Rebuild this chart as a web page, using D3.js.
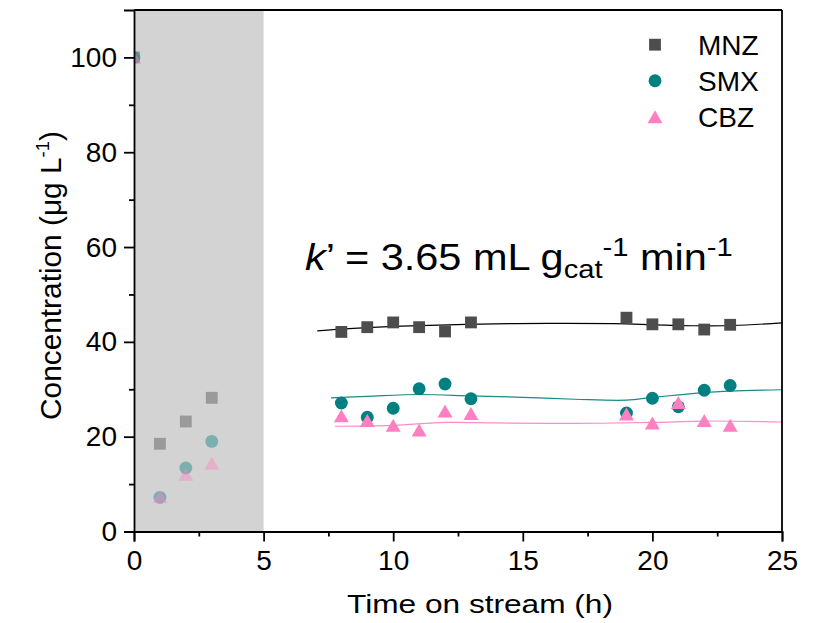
<!DOCTYPE html>
<html>
<head>
<meta charset="utf-8">
<script src="https://cdn.jsdelivr.net/npm/d3@7/dist/d3.min.js"></script>
<style>
  html, body { margin: 0; padding: 0; background: #fff; }
  svg { display: block; }
  text { font-family: "Liberation Sans", Arial, Helvetica, sans-serif; fill: #000; }
</style>
</head>
<body>
<svg id="chart" width="818" height="623"></svg>
<script>
// Sampling times (h) and measured concentrations (µg/L)
const times = [0, 1, 2, 3, 8, 9, 10, 11, 12, 13, 19, 20, 21, 22, 23];
const mnz = [100, 18.5, 23.2, 28.2, 42.1, 43.1, 44.1, 43.1, 42.2, 44.1, 45.1, 43.7, 43.7, 42.6, 43.6];
const smx = [100, 7.2, 13.4, 19.0, 27.1, 24.1, 26.0, 30.1, 31.1, 28.0, 25.0, 28.1, 26.3, 29.8, 30.8];
const cbz = [100, 7.4, 12.1, 14.4, 24.4, 23.4, 22.4, 21.4, 25.4, 24.9, 24.8, 22.9, 27.2, 23.4, 22.4];

// Steady-state model curves (time, concentration)
const mnzFitT = [7.07, 8, 10.3, 12.8, 16, 19, 20, 21.6, 23.1, 25];
const mnzFitC = [42.3, 42.7, 43.3, 43.7, 43.9, 43.8, 43.6, 43.4, 43.45, 44.0];
const smxFitT = [7.6, 9, 11, 13, 15, 17, 19, 20, 21, 22, 23, 25];
const smxFitC = [28.2, 28.5, 28.9, 28.6, 28.3, 27.9, 27.7, 28.3, 28.8, 29.3, 29.6, 29.9];
const cbzFitT = [7.75, 10, 12, 14, 17, 20, 22, 25];
const cbzFitC = [22.2, 22.4, 23.0, 22.9, 22.8, 23.0, 23.3, 23.1];

// Start-up (adsorption) period
const startupEnd = 5;

const seriesNames = ["MNZ", "SMX", "CBZ"];
const xTicks = [0, 5, 10, 15, 20, 25];
const xMinor = [2.5, 7.5, 12.5, 17.5, 22.5];
const yTicks = [0, 20, 40, 60, 80, 100];
const yMinor = [10, 30, 50, 70, 90];

const colors = { MNZ: "#4d4d4d", SMX: "#008080", CBZ: "#ff80c0" };

const svg = d3.select("#chart");
const margin = { left: 134, right: 36, top: 10, bottom: 91.5 };
const W = 818, H = 623;
const x = d3.scaleLinear().domain([0, 25]).range([margin.left, W - margin.right]);
const y = d3.scaleLinear().domain([0, 110]).range([H - margin.bottom, margin.top]);

// stretch a text element horizontally so that it spans the given width
function fitWidth(sel, target) {
  const w = sel.node().getBBox().width;
  sel.attr("transform", `scale(${target / w},1)`);
}

svg.append("defs").append("clipPath").attr("id", "plotclip")
  .append("rect")
  .attr("x", x(0)).attr("y", y(110))
  .attr("width", x(25) - x(0)).attr("height", y(0) - y(110));

// shaded start-up region
svg.append("rect")
  .attr("x", x(0)).attr("y", y(110))
  .attr("width", x(startupEnd) - x(0)).attr("height", y(0) - y(110))
  .attr("fill", "#d3d3d3");

// marker shapes
const tri = "M0,-6.5L7.5,6.5L-7.5,6.5Z";
const shape = {
  MNZ: d3.symbol(d3.symbolSquare, 140)(),
  SMX: d3.symbol(d3.symbolCircle, 130)(),
  CBZ: tri
};

// fit curves
const line = d3.line().x(d => x(d[0])).y(d => y(d[1])).curve(d3.curveCatmullRom);
const fits = [
  ["MNZ", mnzFitT, mnzFitC, "#000"],
  ["SMX", smxFitT, smxFitC, "#1a8a8a"],
  ["CBZ", cbzFitT, cbzFitC, "#ff8cc8"]
];
const gPlot = svg.append("g").attr("clip-path", "url(#plotclip)");
fits.forEach(([name, t, c, col]) => {
  gPlot.append("path")
    .datum(t.map((ti, i) => [ti, c[i]]))
    .attr("d", line)
    .attr("fill", "none")
    .attr("stroke", col)
    .attr("stroke-width", 1.2);
});

// data points
const seriesData = { MNZ: mnz, SMX: smx, CBZ: cbz };
seriesNames.forEach(name => {
  const vals = seriesData[name];
  gPlot.append("g").selectAll("path")
    .data(times.map((t, i) => ({ t, v: vals[i] })))
    .join("path")
    .attr("d", shape[name])
    .attr("transform", d => `translate(${x(d.t)},${y(d.v)})`)
    .attr("fill", colors[name])
    .attr("fill-opacity", d => d.t < startupEnd ? 0.42 : 1);
});

// axes
const axisG = svg.append("g");
const xAxis = d3.axisBottom(x).tickValues(xTicks).tickSize(10).tickPadding(9).tickFormat(d3.format("d"));
const yAxis = d3.axisLeft(y).tickValues(yTicks).tickSize(10).tickPadding(7).tickFormat(d3.format("d"));

const gx = axisG.append("g").attr("transform", `translate(0,${y(0)})`).call(xAxis);
const gxm = axisG.append("g").attr("transform", `translate(0,${y(0)})`)
  .call(d3.axisBottom(x).tickValues(xMinor).tickSize(5).tickFormat(""));
const gy = axisG.append("g").attr("transform", `translate(${x(0)},0)`).call(yAxis);
const gym = axisG.append("g").attr("transform", `translate(${x(0)},0)`)
  .call(d3.axisLeft(y).tickValues(yMinor).tickSize(5).tickFormat(""));

[gx, gxm, gy, gym].forEach(g => {
  g.select(".domain").attr("stroke", "#000").attr("stroke-width", 1.8);
  g.selectAll(".tick line").attr("stroke", "#000").attr("stroke-width", 1.8);
  g.selectAll(".tick text").attr("font-size", 28).attr("fill", "#000")
    .style("font-family", '"Liberation Sans", Arial, sans-serif');
});
gxm.select(".domain").remove();
gym.select(".domain").remove();

// frame top and right
axisG.append("line").attr("x1", x(0)).attr("x2", x(25)).attr("y1", y(110)).attr("y2", y(110))
  .attr("stroke", "#000").attr("stroke-width", 1.8);
axisG.append("line").attr("x1", x(25)).attr("x2", x(25)).attr("y1", y(110)).attr("y2", y(0))
  .attr("stroke", "#000").attr("stroke-width", 1.8);

// axis titles
svg.append("text")
  .attr("x", 480).attr("y", 613)
  .attr("text-anchor", "middle")
  .attr("font-size", 26)
  .attr("textLength", 266).attr("lengthAdjust", "spacingAndGlyphs")
  .text("Time on stream (h)");

const ytG = svg.append("g").attr("transform", "translate(61,275.5) rotate(-90)");
const yt = ytG.append("text")
  .attr("text-anchor", "middle")
  .attr("font-size", 29);
yt.append("tspan").text("Concentration (μg L");
yt.append("tspan").attr("font-size", 18).attr("dy", -12).text("-1");
yt.append("tspan").attr("dy", 12).text(")");
fitWidth(yt, 289);

// rate constant annotation
const annG = svg.append("g").attr("transform", "translate(305,270)");
const ann = annG.append("text").attr("x", 0).attr("y", 0).attr("font-size", 37);
ann.append("tspan").attr("font-style", "italic").text("k");
ann.append("tspan").text("’ = 3.65 mL g");
ann.append("tspan").attr("font-size", 26).attr("dy", 8).text("cat");
ann.append("tspan").attr("font-size", 26).attr("dy", -22).text("-1");
ann.append("tspan").attr("dy", 14).text(" min");
ann.append("tspan").attr("font-size", 26).attr("dy", -14).text("-1");
fitWidth(ann, 428);

// legend
const legend = svg.append("g");
seriesNames.forEach((name, i) => {
  const cy = 44.7 + i * 36;
  legend.append("path").attr("d", shape[name])
    .attr("transform", `translate(655,${cy})`)
    .attr("fill", colors[name]);
  legend.append("text").attr("x", 698).attr("y", cy + 10.5)
    .attr("font-size", 28).text(name);
});
</script>
</body>
</html>
